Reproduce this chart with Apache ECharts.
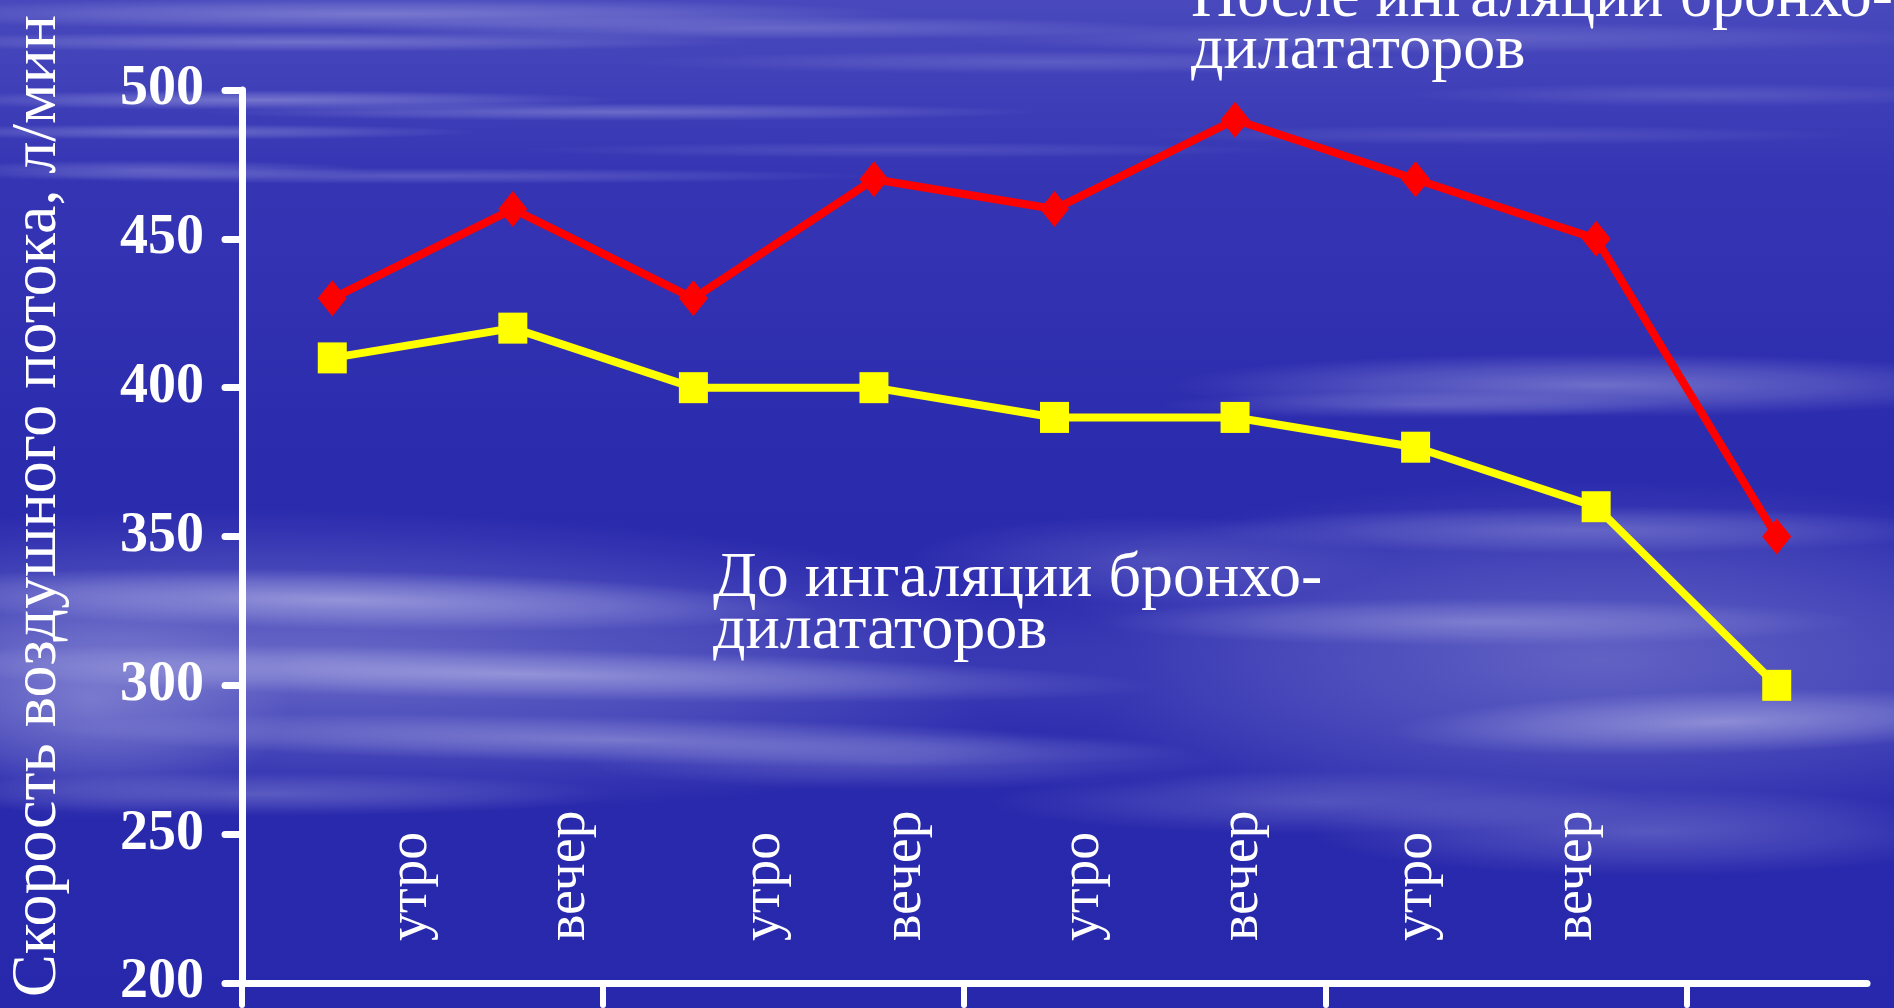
<!DOCTYPE html>
<html lang="ru">
<head>
<meta charset="utf-8">
<title>Скорость воздушного потока</title>
<script src="https://cdn.jsdelivr.net/npm/echarts@6/dist/echarts.min.js"></script>
<style>
  html, body { margin: 0; padding: 0; background: #2b2bb0; overflow: hidden; }
  #chart { width: 1894px; height: 1008px; }
</style>
</head>
<body>
<div id="chart"></div>
<script>
// Measurement slots: morning and evening over consecutive days
const slots = ['1 утро', '1 вечер', '2 утро', '2 вечер', '3 утро', '3 вечер', '4 утро', '4 вечер', '5 утро'];
// Peak flow after bronchodilator inhalation, l/min
const afterValues = [430, 460, 430, 470, 460, 490, 470, 450, 350];
// Peak flow before bronchodilator inhalation, l/min
const beforeValues = [410, 420, 400, 400, 390, 390, 380, 360, 300];
// Value axis ticks
const yTicks = [200, 250, 300, 350, 400, 450, 500];
// Time-of-day captions along the bottom
const timeLabels = ['утро', 'вечер', 'утро', 'вечер', 'утро', 'вечер', 'утро', 'вечер'];
const afterCaption = 'После ингаляции бронхо-\nдилататоров';
const beforeCaption = 'До ингаляции бронхо-\nдилататоров';
const yTitle = 'Скорость воздушного потока, л/мин';

// Layout: where each time-of-day caption sits, in slot units from the left edge
const labelAt = [0.936, 1.812, 2.892, 3.673, 4.659, 5.540, 6.504, 7.391];
// Day boundaries (every morning slot starts a day)
const dayStarts = slots.map((s, i) => i).filter(i => i % 2 === 0);

const SERIF = '"Liberation Serif", "Times New Roman", serif';
const WHITE = '#ffffff';

// Soft cloud streaks of the backdrop: [cx, cy, rx, ry, alpha, tilt]
const clouds = [
  // wispy streaks across the top
  [380, 14, 520, 16, 0.34, 0], [300, 42, 460, 10, 0.3, 0], [760, 28, 420, 12, 0.24, 0],
  [1050, 62, 420, 12, 0.18, 0], [1450, 38, 520, 16, 0.2, 0], [1700, 95, 300, 12, 0.16, 0],
  [260, 100, 360, 10, 0.36, 0], [620, 112, 420, 9, 0.3, 0], [180, 132, 300, 8, 0.3, 0],
  [420, 176, 460, 8, 0.22, 0], [150, 170, 220, 10, 0.26, 0], [1500, 135, 360, 10, 0.14, 0],
  [900, 150, 380, 8, 0.14, 0],
  // right-hand streaks under the lines
  [1600, 385, 430, 32, 0.38, 0], [1420, 405, 260, 14, 0.22, 0], [1580, 530, 380, 24, 0.28, 0],
  // broad cloud bank lower left
  [320, 660, 820, 150, 0.36, -0.02], [340, 600, 480, 30, 0.5, -0.02], [520, 674, 640, 26, 0.46, -0.02],
  [620, 740, 580, 24, 0.36, -0.02], [260, 794, 360, 22, 0.26, 0], [900, 762, 320, 28, 0.22, 0],
  [90, 700, 200, 120, 0.3, 0],
  // cloud bank lower right
  [1600, 660, 640, 180, 0.32, 0], [1720, 722, 330, 32, 0.46, 0.03], [1480, 622, 380, 24, 0.32, 0],
  [1650, 832, 340, 44, 0.26, 0], [1320, 802, 330, 32, 0.22, 0], [1150, 560, 240, 44, 0.18, 0]
];

const cloudGraphics = clouds.map(([cx, cy, rx, ry, a, tilt]) => ({
  type: 'circle',
  silent: true,
  z: -10,
  x: cx, y: cy,
  scaleX: rx / 100, scaleY: ry / 100,
  rotation: tilt,
  shape: { cx: 0, cy: 0, r: 100 },
  style: {
    fill: {
      type: 'radial', x: 0.5, y: 0.5, r: 0.5,
      colorStops: [
        { offset: 0, color: 'rgba(215,215,245,' + a + ')' },
        { offset: 0.55, color: 'rgba(200,200,240,' + (a * 0.55) + ')' },
        { offset: 1, color: 'rgba(190,190,240,0)' }
      ]
    }
  }
}));

const chart = echarts.init(document.getElementById('chart'), null, { renderer: 'canvas' });

chart.setOption({
  animation: false,
  backgroundColor: {
    type: 'linear', x: 0, y: 0, x2: 0, y2: 1,
    colorStops: [
      { offset: 0, color: '#4949bd' },
      { offset: 0.18, color: '#3535b4' },
      { offset: 0.45, color: '#2b2bae' },
      { offset: 1, color: '#2828ac' }
    ]
  },
  grid: { left: 242, right: 27, top: 90, bottom: 25, containLabel: false, outerBoundsMode: 'none' },
  xAxis: [
    {
      type: 'category',
      data: slots,
      boundaryGap: true,
      axisLine: { show: true, lineStyle: { color: WHITE, width: 7, cap: 'round' } },
      axisTick: { show: false },
      axisLabel: { show: false },
      splitLine: { show: false }
    },
    {
      // Day ticks and the time-of-day captions share the same slot scale
      type: 'value',
      position: 'bottom',
      min: 0,
      max: slots.length,
      axisLine: { show: false },
      splitLine: { show: false },
      axisTick: {
        show: true, customValues: dayStarts, length: 22,
        lineStyle: { color: WHITE, width: 6, cap: 'round' }
      },
      axisLabel: {
        show: true, customValues: labelAt, inside: true, rotate: 90, margin: 42,
        formatter: function (v) {
          const i = labelAt.findIndex(p => Math.abs(p - v) < 1e-6);
          return i >= 0 ? timeLabels[i] : '';
        },
        color: WHITE, fontFamily: SERIF, fontSize: 56
      }
    }
  ],
  yAxis: {
    type: 'value',
    min: yTicks[0],
    max: yTicks[yTicks.length - 1],
    interval: yTicks[1] - yTicks[0],
    axisLine: { show: true, lineStyle: { color: WHITE, width: 7, cap: 'round' } },
    axisTick: { show: true, length: 17, lineStyle: { color: WHITE, width: 7, cap: 'round' } },
    axisLabel: {
      margin: 38, color: WHITE, fontFamily: SERIF, fontWeight: 'bold', fontSize: 56
    },
    splitLine: { show: false }
  },
  series: [
    {
      name: 'До ингаляции бронходилататоров',
      type: 'line',
      data: beforeValues,
      symbol: 'rect',
      symbolSize: [29, 31],
      showAllSymbol: true,
      lineStyle: { color: '#ffff00', width: 8 },
      itemStyle: { color: '#ffff00' },
      z: 3
    },
    {
      name: 'После ингаляции бронходилататоров',
      type: 'line',
      data: afterValues,
      symbol: 'diamond',
      symbolSize: [29, 36],
      showAllSymbol: true,
      lineStyle: { color: '#ff0000', width: 8 },
      itemStyle: { color: '#ff0000' },
      z: 4
    }
  ],
  graphic: cloudGraphics.concat([
    {
      type: 'text', silent: true, z: 10,
      x: 38, y: 997, rotation: Math.PI / 2,
      style: { text: yTitle, fill: WHITE, font: '64px ' + SERIF, align: 'left', verticalAlign: 'middle' }
    },
    {
      type: 'text', silent: true, z: 10,
      x: 1191, y: -27,
      style: { text: afterCaption, fill: WHITE, font: '64px ' + SERIF, lineHeight: 52, align: 'left', verticalAlign: 'top' }
    },
    {
      type: 'text', silent: true, z: 10,
      x: 713, y: 553,
      style: { text: beforeCaption, fill: WHITE, font: '64px ' + SERIF, lineHeight: 52, align: 'left', verticalAlign: 'top' }
    }
  ])
});
</script>
</body>
</html>
